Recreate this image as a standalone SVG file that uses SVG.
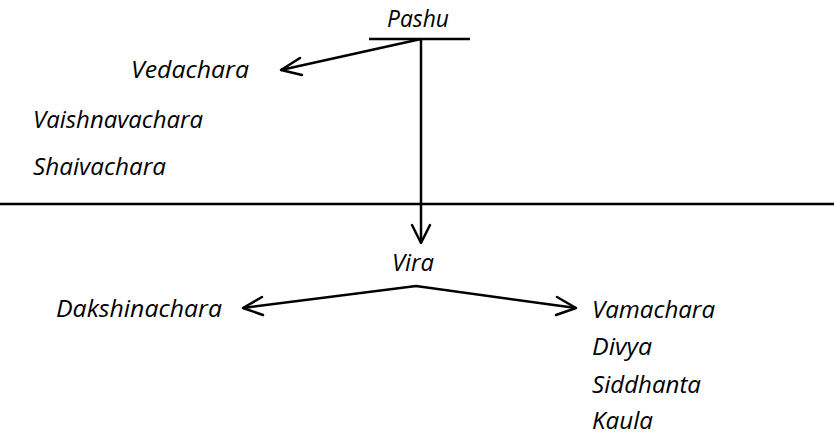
<svg xmlns="http://www.w3.org/2000/svg" width="834" height="435" viewBox="0 0 834 435">
<style>
text{font-family:"Open Sans","Lato","DejaVu Sans",sans-serif;font-style:italic;font-size:24px;fill:#000}
.ln{stroke:#000;stroke-width:2.5;fill:none}
.ah{stroke:#000;stroke-width:2.5;fill:none;stroke-linecap:round;stroke-linejoin:round}
</style>
<rect width="834" height="435" fill="#fff"/>
<g id="pashu"><text x="387" y="27" textLength="62" lengthAdjust="spacingAndGlyphs">Pashu</text><line class="ln" x1="369" y1="39" x2="470" y2="39"/></g>
<g id="vedachara"><text x="131" y="78" textLength="118" lengthAdjust="spacingAndGlyphs">Vedachara</text></g>
<g id="vaishnavachara"><text x="33" y="128" textLength="170" lengthAdjust="spacingAndGlyphs">Vaishnavachara</text></g>
<g id="shaivachara"><text x="33" y="175" textLength="133" lengthAdjust="spacingAndGlyphs">Shaivachara</text></g>
<g id="divider"><line class="ln" x1="0" y1="204" x2="834" y2="204"/></g>
<g id="vira"><text x="392" y="271" textLength="42" lengthAdjust="spacingAndGlyphs">Vira</text></g>
<g id="dakshinachara"><text x="56" y="317" textLength="166" lengthAdjust="spacingAndGlyphs">Dakshinachara</text></g>
<g id="vamachara"><text x="592" y="318" textLength="123" lengthAdjust="spacingAndGlyphs">Vamachara</text></g>
<g id="divya"><text x="592" y="355" textLength="60" lengthAdjust="spacingAndGlyphs">Divya</text></g>
<g id="siddhanta"><text x="592" y="393" textLength="109" lengthAdjust="spacingAndGlyphs">Siddhanta</text></g>
<g id="kaula"><text x="592" y="429" textLength="61" lengthAdjust="spacingAndGlyphs">Kaula</text></g>
<g id="connectors">
<line class="ln" x1="421" y1="39" x2="421" y2="243"/>
<polyline class="ah" points="412,225 421,243 430,225"/>
<line class="ln" x1="421" y1="39" x2="281" y2="70"/>
<polyline class="ah" points="300,58 281,70 302,75"/>
<polyline class="ln" points="243,308 416,286 576,308"/>
<polyline class="ah" points="262,297 243,308 263,315"/>
<polyline class="ah" points="556,315 576,308 557,297"/>
</g>
</svg>
